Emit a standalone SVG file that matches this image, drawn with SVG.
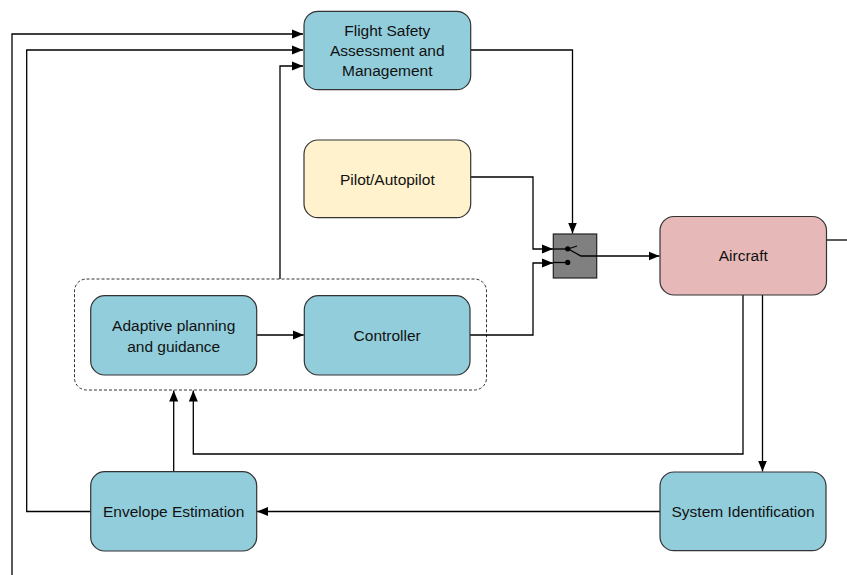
<svg xmlns="http://www.w3.org/2000/svg" width="847" height="575" viewBox="0 0 847 575">
<style>
.node{stroke:#333;stroke-width:1.2}
.blue{fill:#92CDDC}
.yellow{fill:#FFF2CC}
.pink{fill:#E6B9B8}
.t{font-family:"Liberation Sans",Arial,sans-serif;font-size:15.5px;fill:#111;text-anchor:middle;dominant-baseline:central}
.c{fill:none;stroke:#000;stroke-width:1.3}
.a{marker-end:url(#arr)}
</style>
<defs>
<marker id="arr" markerUnits="userSpaceOnUse" markerWidth="12" markerHeight="10" refX="11" refY="5" orient="auto">
<path d="M0,0.5 L11,5 L0,9.5 z" fill="#000"/>
</marker>
</defs>
<rect width="847" height="575" fill="#fff"/>
<g id="group-box">
<rect x="74.5" y="279" width="412" height="111" rx="12" fill="none" stroke="#333" stroke-width="1" stroke-dasharray="3,2"/>
</g>
<g id="connectors">
<polyline class="c a" points="12,575 12,34 303,34"/>
<polyline class="c a" points="90.7,511.5 26.7,511.5 26.7,50 303,50"/>
<polyline class="c a" points="280,279 280,66 303,66"/>
<polyline class="c a" points="470.7,50 572.5,50 572.5,233.5"/>
<polyline class="c a" points="470,177 533,177 533,249 553,249"/>
<polyline class="c a" points="470,335 533,335 533,263 553,263"/>
<polyline class="c a" points="597,256 659.5,256"/>
<polyline class="c" points="826.5,240 847,240"/>
<polyline class="c a" points="743,295 743,454 193.3,454 193.3,390.5"/>
<polyline class="c a" points="762.5,295 762.5,471.5"/>
<polyline class="c a" points="660,511.5 257,511.5"/>
<polyline class="c a" points="173.7,471.5 173.7,390.5"/>
<polyline class="c a" points="256.7,335 303.8,335"/>
</g>
<g id="flight-safety">
<rect class="node blue" x="304" y="11.3" width="166.7" height="78.4" rx="14"/>
<text class="t" x="387.3" y="30.5">Flight Safety</text>
<text class="t" x="387.3" y="50.5">Assessment and</text>
<text class="t" x="387.3" y="70.5">Management</text>
</g>
<g id="pilot">
<rect class="node yellow" x="304" y="140" width="166.7" height="77.7" rx="14"/>
<text class="t" x="387.3" y="179.5">Pilot/Autopilot</text>
</g>
<g id="switch">
<rect x="553.3" y="234" width="43.4" height="44" fill="#808080" stroke="#222" stroke-width="1.2"/>
<line x1="553.3" y1="249" x2="567.7" y2="249" stroke="#000" stroke-width="1.3"/>
<line x1="553.3" y1="262.5" x2="567.7" y2="262.5" stroke="#000" stroke-width="1.3"/>
<circle cx="567.7" cy="248.8" r="2.6" fill="#000"/>
<circle cx="567.7" cy="262.4" r="2.6" fill="#000"/>
<polyline points="567.7,248.8 581,256 597,256" fill="none" stroke="#000" stroke-width="1.3"/>
<line x1="568" y1="249" x2="577" y2="246" stroke="#000" stroke-width="1.3"/>
</g>
<g id="aircraft">
<rect class="node pink" x="660" y="216.5" width="166.5" height="78.5" rx="14"/>
<text class="t" x="743.3" y="255.5">Aircraft</text>
</g>
<g id="adaptive">
<rect class="node blue" x="90.7" y="295.7" width="166" height="79.3" rx="14"/>
<text class="t" x="173.7" y="325">Adaptive planning</text>
<text class="t" x="173.7" y="346">and guidance</text>
</g>
<g id="controller">
<rect class="node blue" x="304.3" y="295.7" width="165.7" height="79.3" rx="14"/>
<text class="t" x="387.2" y="335.5">Controller</text>
</g>
<g id="envelope">
<rect class="node blue" x="90.7" y="471.7" width="166" height="79.3" rx="14"/>
<text class="t" x="173.7" y="511.5">Envelope Estimation</text>
</g>
<g id="sysid">
<rect class="node blue" x="660" y="472" width="166" height="78.7" rx="14"/>
<text class="t" x="743" y="511.5">System Identification</text>
</g>
</svg>
